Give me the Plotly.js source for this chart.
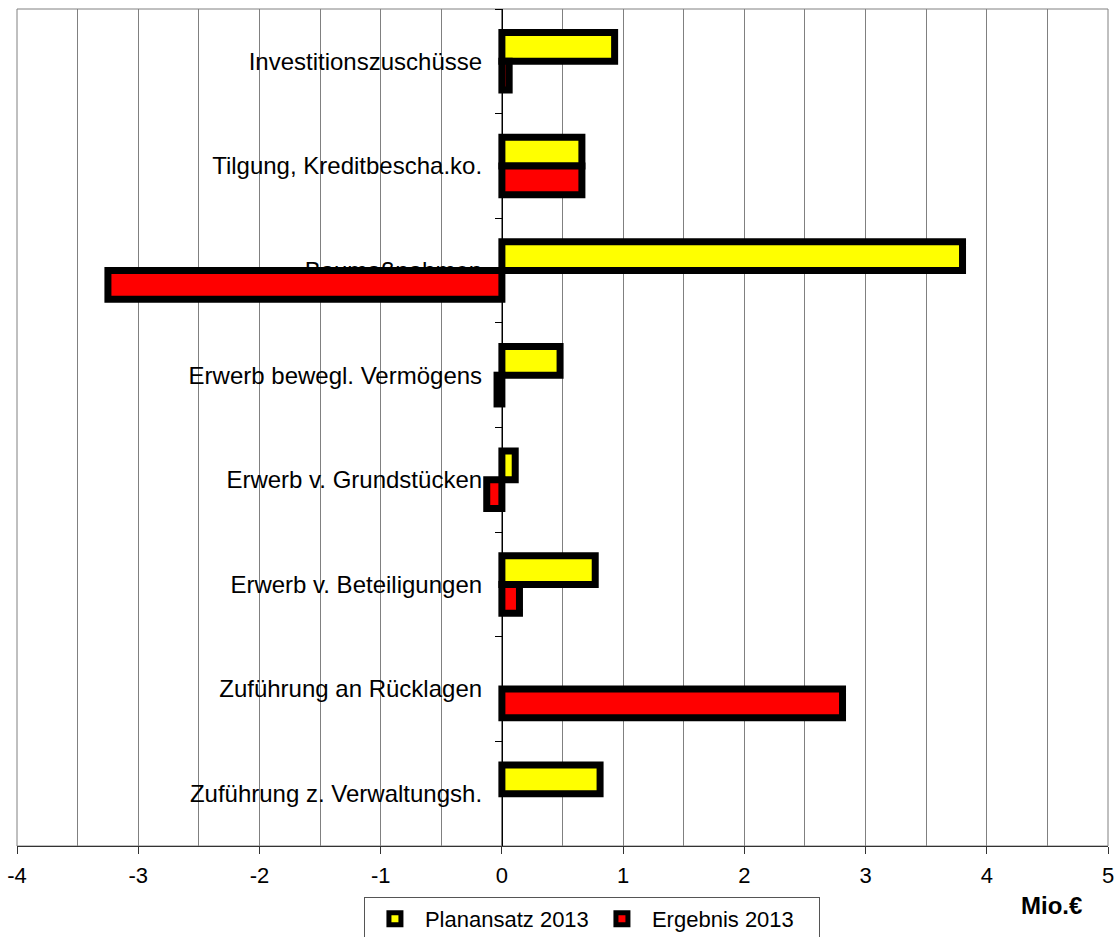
<!DOCTYPE html>
<html>
<head>
<meta charset="utf-8">
<script src="https://cdn.plot.ly/plotly-3.0.1.min.js"></script>
<style>html,body{margin:0;padding:0;background:#fff;}#chart{width:1118px;height:937px;}</style>
</head>
<body>
<div id="chart"></div>
<script>
const categories = ["Investitionszuschüsse", "Tilgung, Kreditbescha.ko.", "Baumaßnahmen", "Erwerb bewegl. Vermögens", "Erwerb v. Grundstücken", "Erwerb v. Beteiligungen", "Zuführung an Rücklagen", "Zuführung z. Verwaltungsh."];
const planansatz2013 = [0.93, 0.66, 3.80, 0.48, 0.11, 0.77, 0, 0.81];
const ergebnis2013 = [0.06, 0.66, -3.25, -0.04, -0.125, 0.145, 2.81, 0];
const seriesNames = ["Planansatz 2013", "Ergebnis 2013"];
const xTickVals = [-4, -3, -2, -1, 0, 1, 2, 3, 4, 5];
const xTickText = ["-4", "-3", "-2", "-1", "0", "1", "2", "3", "4", "5"];
const unitLabel = "Mio.€";

const FONT = "'Liberation Sans', Arial, sans-serif";
// zero-length bars are not drawn in the original (no outline), so hide them
const hideZero = v => (v === 0 ? null : v);

const traces = [
  {
    type: 'bar', orientation: 'h', name: seriesNames[0],
    y: categories, x: planansatz2013.map(hideZero),
    marker: {color: '#FFFF00', line: {color: '#000000', width: 7}},
    hoverinfo: 'x+name'
  },
  {
    type: 'bar', orientation: 'h', name: seriesNames[1],
    y: categories, x: ergebnis2013.map(hideZero),
    marker: {color: '#FF0000', line: {color: '#000000', width: 7}},
    hoverinfo: 'x+name'
  }
];

const layout = {
  width: 1118, height: 937,
  margin: {l: 17, r: 10, t: 9, b: 91, autoexpand: false},
  paper_bgcolor: '#ffffff', plot_bgcolor: '#ffffff',
  font: {family: FONT, color: '#000000', size: 22},
  barmode: 'group', bargap: 0.45, bargroupgap: 0,
  showlegend: true,
  legend: {
    orientation: 'h', x: 0.318, xanchor: 'left', y: -0.061, yanchor: 'top',
    font: {family: FONT, size: 22, color: '#000'},
    bgcolor: '#ffffff', bordercolor: '#555555', borderwidth: 1,
    itemwidth: 50, entrywidth: 162, traceorder: 'normal'
  },
  xaxis: {
    range: [-4, 5], tickmode: 'array', tickvals: xTickVals, ticktext: xTickText,
    showgrid: true, gridcolor: '#808080', gridwidth: 1,
    minor: {tickmode: 'linear', tick0: 0, dtick: 0.5, showgrid: true, gridcolor: '#808080', gridwidth: 1, ticks: ''},
    zeroline: false, showline: true, linecolor: '#333333', linewidth: 1,
    ticks: 'outside', ticklen: 7, tickcolor: '#333333', tickwidth: 1,
    tickfont: {family: FONT, size: 22, color: '#000'},
    ticklabelstandoff: 3, fixedrange: true, automargin: false
  },
  yaxis: {
    type: 'category', autorange: 'reversed',
    anchor: 'free', position: 4/9,
    showgrid: false, zeroline: false,
    showline: true, linecolor: '#000000', linewidth: 1,
    ticks: 'outside', ticklen: 7, tickcolor: '#000', tickson: 'boundaries',
    tickfont: {family: FONT, size: 24, color: '#000'},
    ticklabelstandoff: 15,
    layer: 'below traces', fixedrange: true, automargin: false
  },
  shapes: [
    {type: 'rect', xref: 'paper', yref: 'paper', x0: 0, x1: 1, y0: 0, y1: 1,
     line: {color: '#808080', width: 1}, fillcolor: 'rgba(0,0,0,0)', layer: 'below'}
  ],
  annotations: [
    {text: '<b>' + unitLabel + '</b>', xref: 'paper', yref: 'paper', x: 0.948, y: -0.071,
     xanchor: 'center', yanchor: 'middle', showarrow: false,
     font: {family: FONT, size: 24, color: '#000'}}
  ]
};

Plotly.newPlot('chart', traces, layout, {displayModeBar: false});
</script>
</body>
</html>
